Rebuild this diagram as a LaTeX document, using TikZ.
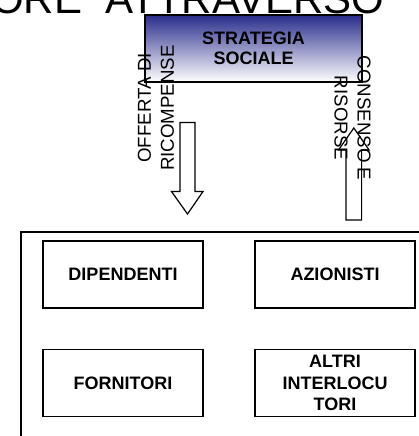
\documentclass[tikz,border=0pt]{standalone}
\usepackage{fontspec}
\setmainfont{Liberation Sans}
\definecolor{stratblue}{RGB}{42,45,140}
\begin{document}
\begin{tikzpicture}[x=1pt,y=-1pt,
  outline/.style={draw=black, line width=1.2pt},
  party/.style={outline, minimum width=160pt, minimum height=67pt, inner sep=0pt,
    align=center, font=\fontsize{18}{21.5}\selectfont\bfseries},
  sidelabel/.style={inner sep=0pt, align=center, font=\fontsize{18.7}{23}\selectfont},
  blockarrow/.style={outline, line join=miter}]
\useasboundingbox (0,0) rectangle (419,436);
\clip (0,0) rectangle (419,436);

% heading, cut by the top edge
\node[anchor=base west, inner sep=0pt, font=\fontsize{42}{50}\selectfont]
  (title) at (-9,13.5) {ORE\ \ ATTRAVERSO};

% strategy box with vertical gradient
\node[outline, top color=stratblue, bottom color=white, minimum width=217pt,
  minimum height=67pt, inner sep=0pt, align=center,
  font=\fontsize{18}{20.5}\selectfont\bfseries]
  (strat) at (253.5,48.5) {};
\node[inner sep=0pt, align=center, font=\fontsize{18}{20}\selectfont\bfseries]
  (stratlabel) at (253.5,48.5) {STRATEGIA\\SOCIALE};

% outer frame
\coordinate (frameTR) at (430,232);
\coordinate (frameTL) at (21,232);
\coordinate (frameBL) at (21,450);
\draw[outline] (frameTR) -- (frameTL) -- (frameBL);

% stakeholder boxes
\node[party] (dip) at (123,274.5) {DIPENDENTI};
\node[party] (azi) at (335,274.5) {AZIONISTI};
\node[party] (forn) at (123,383) {FORNITORI};
\node[party] (altri) at (335,383) {ALTRI\\INTERLOCU\\TORI};

% downward block arrow
\coordinate (dA) at (187.5,122.5);
\draw[blockarrow] ([xshift=-7.5pt]dA) -- ([xshift=7.5pt]dA)
  -- ++(0,69) -- ++(8,0) -- (187.5,214) -- (171.5,191.5) -- (180,191.5) -- cycle;

% upward block arrow
\coordinate (uA) at (353.8,220);
\draw[blockarrow] ([xshift=-7.8pt]uA) -- ([xshift=7.8pt]uA)
  -- ++(0,-70) -- ++(7.5,0) -- (353.8,128) -- (338.5,150) -- (346,150) -- cycle;

% flow labels
\node[sidelabel, rotate=90] (offerta) at (156,108) {OFFERTA DI\\RICOMPENSE};
\node[sidelabel, rotate=-90] (consenso) at (352.5,118) {CONSENSO E\\RISORSE};
\end{tikzpicture}
\end{document}
